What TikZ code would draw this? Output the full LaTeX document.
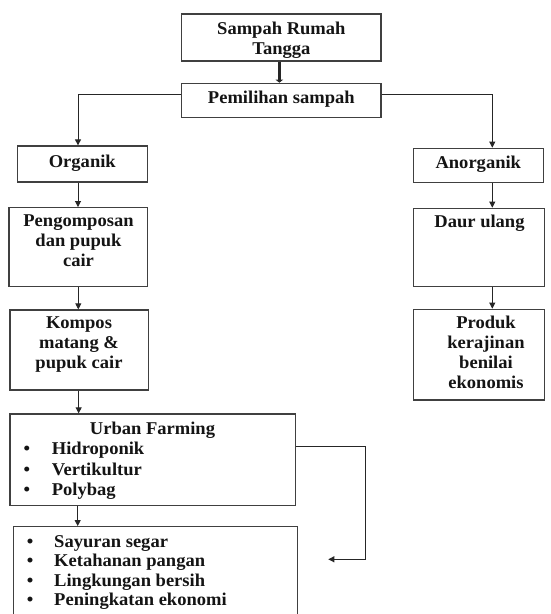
\documentclass[tikz,border=0pt]{standalone}
\usepackage{fontspec}
\setmainfont{Liberation Serif}[FakeStretch=1.03]
\usetikzlibrary{arrows.meta,calc}
\begin{document}
\begin{tikzpicture}[x=1pt,y=-1pt,
  box/.style={draw=black!75, line width=1.3pt, rectangle, inner sep=0pt},
  txt/.style={font=\bfseries\fontsize{18}{20}\selectfont, align=center, inner sep=0pt, text=black!92},
  lst/.style={font=\bfseries\fontsize{18}{20}\selectfont, align=left, inner sep=0pt, text=black!92, anchor=west},
  conn/.style={draw=black!85, line width=0.9pt},
  arr/.style={conn, -{Triangle[width=6pt,length=6pt]}}]
\fill[white] (0,0) rectangle (551,614);
\useasboundingbox (0,0) rectangle (551,614);
\clip (0,0) rectangle (551,614);
% boxes
\node[box, minimum width=199.3pt, minimum height=47pt] (top) at (281.35,37.5) {};
\node[box, minimum width=199.3pt, minimum height=34pt] (pem) at (281.35,100.3) {};
\node[box, minimum width=130pt, minimum height=36pt] (org) at (82.3,164) {};
\node[box, minimum width=130pt, minimum height=34.4pt] (anorg) at (478.3,165.5) {};
\node[box, minimum width=138.3pt, minimum height=79pt] (peng) at (78.15,247.2) {};
\node[box, minimum width=138.3pt, minimum height=80pt] (komp) at (79.15,350) {};
\node[box, minimum width=131pt, minimum height=78.4pt] (daur) at (478.8,247.5) {};
\node[box, minimum width=131pt, minimum height=90.7pt] (prod) at (478.8,354.65) {};
\node[box, minimum width=285.7pt, minimum height=91.3pt] (urban) at (152.85,459.65) {};
\node[box, minimum width=284.4pt, minimum height=98.3pt] (out) at (155.5,575.85) {};
% texts
\node[txt] (toptxt) at (281.35,40) {Sampah Rumah\\Tangga};
\node[txt] (pemtxt) at (281.35,99.5) {Pemilihan sampah};
\node[txt] (orgtxt) at (82.3,163) {Organik};
\node[txt] (anorgtxt) at (478.3,164.5) {Anorganik};
\node[txt] (pengtxt) at (78.5,240.6) {Pengomposan\\dan pupuk\\cair};
\node[txt] (daurtxt) at (479.5,223.3) {Daur ulang};
\node[txt] (komptxt) at (79,344.2) {Kompos\\matang \&\\pupuk cair};
\node[txt] (prodtxt) at (486,352.2) {Produk\\kerajinan\\benilai\\ekonomis};
\node[txt] (urbantitle) at (152.5,430) {Urban Farming};
\node[lst, font=\bfseries\fontsize{18}{20.8}\selectfont] (urbanlist) at (23.5,470.8)
  {\makebox[28.2pt][l]{\textbullet}Hidroponik\\\makebox[28.2pt][l]{\textbullet}Vertikultur\\\makebox[28.2pt][l]{\textbullet}Polybag};
\node[lst, font=\bfseries\fontsize{18}{19.5}\selectfont] (outlist) at (26.8,572.75)
  {\makebox[27.2pt][l]{\textbullet}Sayuran segar\\\makebox[27.2pt][l]{\textbullet}Ketahanan pangan\\\makebox[27.2pt][l]{\textbullet}Lingkungan bersih\\\makebox[27.2pt][l]{\textbullet}Peningkatan ekonomi};
\coordinate (tip) at (328.3,559.3);
% connectors
\draw[conn, line width=3.6pt, -{Triangle[width=7.5pt,length=3pt]}] ([xshift=-2pt]top.south) -- ([xshift=-2pt]pem.north);
\draw[arr] ([yshift=6pt]pem.west) -| ([xshift=-4.3pt]org.north);
\draw[arr] ([yshift=6pt]pem.east) -| ([xshift=14pt]anorg.north);
\draw[arr] ([xshift=-4.3pt]org.south) -- ([xshift=-4.3pt]org.south |- peng.north);
\draw[arr] ([xshift=0.15pt]peng.south) -- ([xshift=0.15pt]peng.south |- komp.north);
\draw[arr] ([xshift=-0.5pt]komp.south) -- ([xshift=-0.5pt]komp.south |- urban.north);
\draw[arr] ([xshift=-75.15pt]urban.south) -- ([xshift=-75.15pt]urban.south |- out.north);
\draw[arr] ([xshift=14pt]anorg.south) -- ([xshift=14pt]anorg.south |- daur.north);
\draw[arr] ([xshift=13.5pt]daur.south) -- ([xshift=13.5pt]daur.south |- prod.north);
\draw[arr] ([yshift=13.65pt]urban.east) -- ++(69.3,0) |- (tip);
\end{tikzpicture}
\end{document}
